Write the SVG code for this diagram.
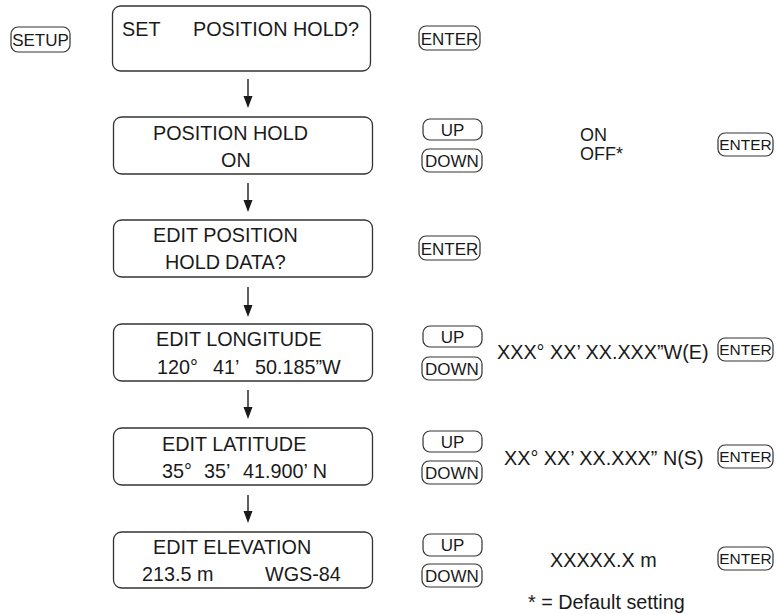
<svg xmlns="http://www.w3.org/2000/svg" width="776" height="614" viewBox="0 0 776 614">
<defs>
<style>
text{font-family:"Liberation Sans",Arial,sans-serif;fill:#1a1a1a}
.t{font-size:19.8px}
.b{font-size:17px}
.bs{font-size:15.5px}
.o{font-size:18px}
.box{fill:#fff;stroke:#333;stroke-width:1.3}
.btn{fill:#fff;stroke:#333;stroke-width:1.2}
.arr{stroke:#1a1a1a;stroke-width:1.4;fill:none}
.ah{fill:#1a1a1a}
</style>
</defs>
<g id="connectors">
<line class="arr" x1="248" y1="79" x2="248" y2="97"/><path class="ah" d="M243.5,96 L252.5,96 L248,108 Z"/>
<line class="arr" x1="248" y1="183" x2="248" y2="201"/><path class="ah" d="M243.5,200 L252.5,200 L248,212 Z"/>
<line class="arr" x1="248" y1="287" x2="248" y2="306"/><path class="ah" d="M243.5,305 L252.5,305 L248,317 Z"/>
<line class="arr" x1="248" y1="390" x2="248" y2="408"/><path class="ah" d="M243.5,407 L252.5,407 L248,419 Z"/>
<line class="arr" x1="248" y1="495" x2="248" y2="512"/><path class="ah" d="M243.5,511 L252.5,511 L248,523 Z"/>
</g>
<g id="n1">
<rect class="box" x="112.5" y="6" width="258" height="65" rx="8"/>
<text class="t" x="122" y="36">SET</text>
<text class="t" x="193" y="36">POSITION HOLD?</text>
</g>
<g id="n2">
<rect class="box" x="113.5" y="117" width="259" height="57" rx="8"/>
<text class="t" x="153" y="140">POSITION HOLD</text>
<text class="t" x="221" y="167">ON</text>
</g>
<g id="n3">
<rect class="box" x="113.5" y="220" width="259" height="57" rx="8"/>
<text class="t" x="153" y="242">EDIT POSITION</text>
<text class="t" y="269"><tspan x="165">HOLD</tspan><tspan x="225">DATA?</tspan></text>
</g>
<g id="n4">
<rect class="box" x="113.5" y="324" width="259" height="57" rx="8"/>
<text class="t" x="156" y="346">EDIT LONGITUDE</text>
<text class="t" y="374"><tspan x="157">120°</tspan><tspan x="213">41’</tspan><tspan x="255">50.185”W</tspan></text>
</g>
<g id="n5">
<rect class="box" x="113.5" y="428" width="259" height="57" rx="8"/>
<text class="t" x="162" y="451">EDIT LATITUDE</text>
<text class="t" y="478"><tspan x="162">35°</tspan><tspan x="204">35’</tspan><tspan x="243">41.900’ N</tspan></text>
</g>
<g id="n6">
<rect class="box" x="113.5" y="532" width="259" height="56" rx="8"/>
<text class="t" x="153" y="554">EDIT ELEVATION</text>
<text class="t" x="142" y="581">213.5 m</text>
<text class="t" x="265" y="581">WGS-84</text>
</g>
<g id="btn-setup">
<rect class="btn" x="11" y="27" width="59" height="25" rx="7"/>
<text class="b" x="40.5" y="46" text-anchor="middle">SETUP</text>
</g>
<g id="btn-enter1">
<rect class="btn" x="419" y="26" width="61" height="24" rx="7"/>
<text class="b" x="449.5" y="44.5" text-anchor="middle">ENTER</text>
</g>
<g id="btn-up2">
<rect class="btn" x="423" y="119" width="59" height="21" rx="7"/>
<text class="b" x="452.5" y="135.5" text-anchor="middle">UP</text>
</g>
<g id="btn-down2">
<rect class="btn" x="422" y="149" width="60" height="23" rx="7"/>
<text class="b" x="452" y="166.5" text-anchor="middle">DOWN</text>
</g>
<g id="opt-onoff">
<text class="o" x="580" y="141">ON</text>
<text class="o" x="580" y="160">OFF*</text>
</g>
<g id="btn-enter2">
<rect class="btn" x="718" y="133" width="55" height="23" rx="7"/>
<text class="bs" x="745.5" y="150" text-anchor="middle">ENTER</text>
</g>
<g id="btn-enter3">
<rect class="btn" x="419" y="236" width="61" height="24" rx="7"/>
<text class="b" x="449.5" y="254.5" text-anchor="middle">ENTER</text>
</g>
<g id="btn-up4">
<rect class="btn" x="423" y="326" width="59" height="21" rx="7"/>
<text class="b" x="452.5" y="342.5" text-anchor="middle">UP</text>
</g>
<g id="btn-down4">
<rect class="btn" x="422" y="357" width="60" height="23" rx="7"/>
<text class="b" x="452" y="374.5" text-anchor="middle">DOWN</text>
</g>
<g id="opt-lon">
<text class="t" x="497" y="359">XXX° XX’ XX.XXX”W(E)</text>
</g>
<g id="btn-enter4">
<rect class="btn" x="718" y="338" width="55" height="23" rx="7"/>
<text class="bs" x="745.5" y="355" text-anchor="middle">ENTER</text>
</g>
<g id="btn-up5">
<rect class="btn" x="423" y="431" width="59" height="21" rx="7"/>
<text class="b" x="452.5" y="447.5" text-anchor="middle">UP</text>
</g>
<g id="btn-down5">
<rect class="btn" x="422" y="461" width="60" height="23" rx="7"/>
<text class="b" x="452" y="478.5" text-anchor="middle">DOWN</text>
</g>
<g id="opt-lat">
<text class="t" x="504" y="465">XX° XX’ XX.XXX” N(S)</text>
</g>
<g id="btn-enter5">
<rect class="btn" x="718" y="445" width="55" height="23" rx="7"/>
<text class="bs" x="745.5" y="462" text-anchor="middle">ENTER</text>
</g>
<g id="btn-up6">
<rect class="btn" x="423" y="534" width="59" height="22" rx="7"/>
<text class="b" x="452.5" y="551" text-anchor="middle">UP</text>
</g>
<g id="btn-down6">
<rect class="btn" x="422" y="564" width="60" height="23" rx="7"/>
<text class="b" x="452" y="581.5" text-anchor="middle">DOWN</text>
</g>
<g id="opt-elev">
<text class="t" x="550" y="567">XXXXX.X m</text>
</g>
<g id="btn-enter6">
<rect class="btn" x="718" y="547" width="55" height="23" rx="7"/>
<text class="bs" x="745.5" y="564" text-anchor="middle">ENTER</text>
</g>
<g id="note">
<text class="t" x="528" y="609">* = Default setting</text>
</g>
</svg>
